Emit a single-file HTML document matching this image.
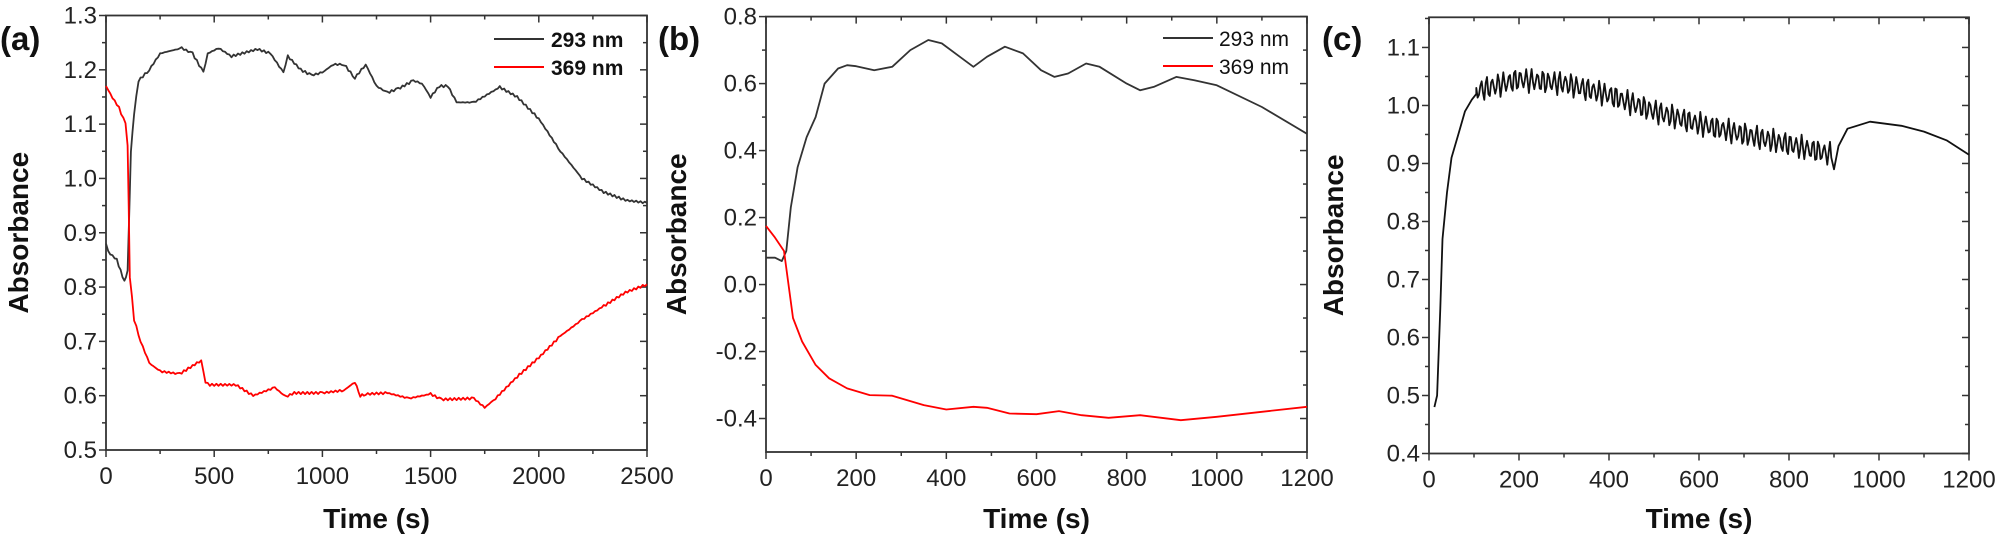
<!DOCTYPE html>
<html><head><meta charset="utf-8"><style>
html,body{margin:0;padding:0;background:#fff;}
svg{display:block;font-family:"Liberation Sans",Arial,sans-serif;}
</style></head><body>
<svg id="s" width="2000" height="542" viewBox="0 0 2000 542" xmlns="http://www.w3.org/2000/svg"></svg>
<script>
const S=document.getElementById('s');let h='';
function panel(o){
 const {x0,x1,y0,y1,xmin,xmax,ymin,ymax}=o;
 const X=t=>x0+(t-xmin)/(xmax-xmin)*(x1-x0), Y=v=>y1-(v-ymin)/(ymax-ymin)*(y1-y0);
 o.X=X;o.Y=Y;
 h+=`<rect x="${x0}" y="${y0}" width="${x1-x0}" height="${y1-y0}" fill="none" stroke="#333" stroke-width="1.8"/>`;
 for(let t=xmin;t<=xmax+1e-9;t+=o.xmin_step){const x=X(t);const maj=Math.abs(Math.round(t/o.xstep)*o.xstep-t)<1e-6;
  const L=maj?7:4;h+=`<line x1="${x}" y1="${y1}" x2="${x}" y2="${y1+L}" stroke="#333" stroke-width="1.5"/><line x1="${x}" y1="${y0}" x2="${x}" y2="${y0+L}" stroke="#333" stroke-width="1.5"/>`;
  if(maj)h+=`<text x="${x}" y="${y1+34}" font-size="24" text-anchor="middle" fill="#222">${Math.round(t)}</text>`;}
 for(let i=0;;i++){const v=o.ylo+i*o.ymin_step;if(v>ymax+1e-9)break;const y=Y(v);const maj=Math.abs(Math.round((v-o.ylo)/o.ystep)*o.ystep-(v-o.ylo))<1e-6;
  const L=maj?7:4;h+=`<line x1="${x0}" y1="${y}" x2="${x0-L}" y2="${y}" stroke="#333" stroke-width="1.5"/><line x1="${x1}" y1="${y}" x2="${x1-L}" y2="${y}" stroke="#333" stroke-width="1.5"/>`;
  if(maj)h+=`<text x="${x0-9}" y="${y+8}" font-size="24" text-anchor="end" fill="#222">${v.toFixed(1).replace('-0.0','0.0')}</text>`;}
 h+=`<text x="${(x0+x1)/2}" y="528" font-size="28" font-weight="bold" text-anchor="middle" fill="#111">Time (s)</text>`;
 h+=`<text transform="translate(${o.ax},${(y0+y1)/2}) rotate(-90)" font-size="28" font-weight="bold" text-anchor="middle" fill="#111">Absorbance</text>`;
 h+=`<text x="${o.lx}" y="50" font-size="33" font-weight="bold" fill="#111">${o.lab}</text>`;
}
function path(o,pts,col,w){h+=`<path d="M${pts.map(p=>o.X(p[0]).toFixed(1)+','+o.Y(p[1]).toFixed(1)).join('L')}" fill="none" stroke="${col}" stroke-width="${w||1.8}" stroke-linejoin="round"/>`;}
function jit(pts,a,step){const r=[];for(let i=0;i<pts.length-1;i++){const[t0,v0]=pts[i],[t1,v1]=pts[i+1];const n=Math.max(1,Math.round((t1-t0)/step));for(let k=0;k<n;k++){const f=k/n;r.push([t0+(t1-t0)*f,v0+(v1-v0)*f+(Math.sin(i*7+k*3.1)*a)]);}}r.push(pts[pts.length-1]);return r;}
const A={x0:106,x1:647,y0:15.5,y1:450,xmin:0,xmax:2500,ymin:0.5,ymax:1.3,xstep:500,xmin_step:250,ylo:0.5,ystep:0.1,ymin_step:0.05,ax:28,lx:0,lab:'(a)'};
panel(A);
path(A,jit([[0,0.88],[10,0.865],[50,0.85],[85,0.81],[100,0.83],[115,1.05],[130,1.12],[150,1.18],[200,1.2],[250,1.23],[350,1.24],[400,1.23],[450,1.195],[470,1.23],[520,1.24],[580,1.225],[700,1.238],[760,1.23],[820,1.195],[840,1.225],[900,1.2],[950,1.19],[1000,1.195],[1050,1.21],[1100,1.21],[1150,1.185],[1200,1.21],[1250,1.17],[1300,1.158],[1350,1.165],[1420,1.18],[1460,1.175],[1500,1.15],[1540,1.17],[1580,1.17],[1620,1.14],[1700,1.14],[1820,1.168],[1900,1.15],[2000,1.11],[2100,1.05],[2200,1.0],[2300,0.975],[2400,0.96],[2500,0.955]],0.002,10),'#333');
path(A,jit([[0,1.17],[20,1.155],[60,1.13],[90,1.1],[100,1.06],[105,0.95],[110,0.82],[130,0.74],[160,0.7],[200,0.66],[250,0.645],[340,0.64],[400,0.655],[440,0.665],[460,0.625],[480,0.62],[600,0.62],[680,0.6],[780,0.615],[830,0.598],[870,0.605],[1000,0.605],[1100,0.61],[1150,0.625],[1175,0.6],[1200,0.603],[1300,0.605],[1400,0.595],[1500,0.603],[1550,0.593],[1700,0.595],[1750,0.578],[1800,0.595],[1900,0.635],[2000,0.67],[2100,0.71],[2200,0.74],[2300,0.765],[2400,0.79],[2500,0.805]],0.002,10),'#f00');
h+=`<line x1="494" y1="39" x2="544" y2="39" stroke="#333" stroke-width="2"/><line x1="494" y1="67" x2="544" y2="67" stroke="#f00" stroke-width="2"/>`;
h+=`<text x="551" y="47" font-size="21" font-weight="bold" fill="#111">293 nm</text><text x="551" y="75" font-size="21" font-weight="bold" fill="#111">369 nm</text>`;
const B={x0:766,x1:1307,y0:16.6,y1:452,xmin:0,xmax:1200,ymin:-0.5,ymax:0.8,xstep:200,xmin_step:100,ylo:-0.4,ystep:0.2,ymin_step:0.1,ax:686,lx:658,lab:'(b)'};
panel(B);
path(B,[[0,0.08],[20,0.08],[35,0.07],[45,0.1],[55,0.23],[70,0.35],[90,0.44],[110,0.5],[130,0.6],[160,0.645],[180,0.655],[200,0.652],[240,0.64],[280,0.65],[320,0.7],[360,0.73],[390,0.72],[430,0.68],[460,0.65],[490,0.68],[530,0.71],[570,0.69],[610,0.64],[640,0.62],[670,0.63],[710,0.66],[740,0.65],[800,0.6],[830,0.58],[860,0.59],[910,0.62],[950,0.61],[1000,0.595],[1100,0.53],[1200,0.45]],'#333');
path(B,[[0,0.175],[20,0.14],[40,0.1],[50,0.0],[60,-0.1],[80,-0.17],[110,-0.24],[140,-0.28],[180,-0.31],[230,-0.33],[280,-0.332],[350,-0.36],[400,-0.373],[460,-0.365],[490,-0.368],[540,-0.385],[600,-0.387],[650,-0.378],[700,-0.39],[760,-0.398],[830,-0.39],[920,-0.405],[1000,-0.395],[1100,-0.38],[1200,-0.365]],'#f00');
h+=`<line x1="1163" y1="38" x2="1213" y2="38" stroke="#333" stroke-width="2"/><line x1="1163" y1="66" x2="1213" y2="66" stroke="#f00" stroke-width="2"/>`;
h+=`<text x="1219" y="46" font-size="21" fill="#111">293 nm</text><text x="1219" y="74" font-size="21" fill="#111">369 nm</text>`;
const C={x0:1429,x1:1969,y0:17.3,y1:453.5,xmin:0,xmax:1200,ymin:0.4,ymax:1.152,xstep:200,xmin_step:100,ylo:0.4,ystep:0.1,ymin_step:0.05,ax:1343,lx:1322,lab:'(c)'};
panel(C);
let pc=[[12,0.48],[18,0.5],[25,0.65],[30,0.77],[40,0.85],[50,0.91],[65,0.95],[80,0.99],[95,1.01],[105,1.02]];
const base=[[105,1.025],[200,1.045],[300,1.038],[400,1.018],[500,0.99],[600,0.968],[700,0.95],[800,0.933],[895,0.915]];
function bl(t){for(let i=0;i<base.length-1;i++){if(t<=base[i+1][0]){const f=(t-base[i][0])/(base[i+1][0]-base[i][0]);return base[i][1]+f*(base[i+1][1]-base[i][1]);}}return 0.915;}
for(let t=105;t<=895;t+=3){pc.push([t,bl(t)+0.017*Math.sin(t/12.5*2*Math.PI)+0.005*Math.sin(t*0.7)]);}
pc.push([900,0.89],[910,0.93],[930,0.96],[980,0.972],[1050,0.965],[1100,0.955],[1150,0.94],[1200,0.915]);
path(C,pc,'#111',1.8);
S.innerHTML=h;
</script>
</body></html>
